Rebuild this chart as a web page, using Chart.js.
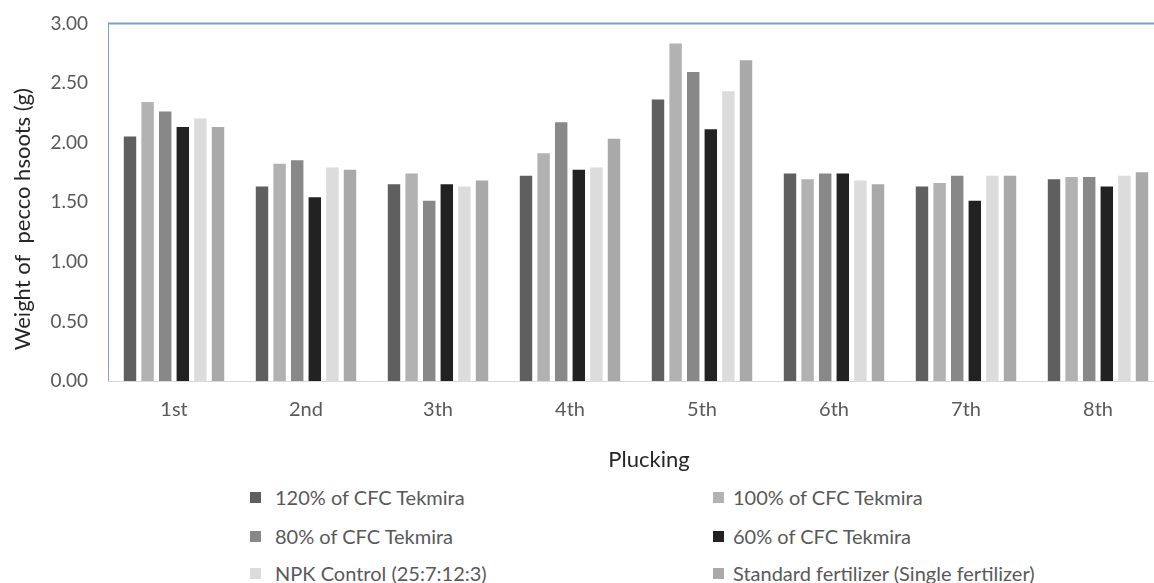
<!DOCTYPE html>
<html>
<head>
<meta charset="utf-8">
<script src="https://cdn.jsdelivr.net/npm/chart.js@4.4.1/dist/chart.umd.min.js"></script>
<style>
  html, body { margin: 0; padding: 0; background: #fff; overflow: hidden; }
  #wrap { position: absolute; left: 0; top: 0; width: 1164px; height: 472px; }
  #legend { position: absolute; left: 0; top: 472px; width: 1154px; height: 111px;
    font-family: Lato, sans-serif; font-size: 20px; color: #595959; }
  .item { position: absolute; white-space: nowrap; line-height: 24px; }
  .box { position: absolute; width: 11px; height: 11px; }
</style>
</head>
<body>
<div id="wrap"><canvas id="chart" width="1164" height="472"></canvas></div>
<div id="legend"></div>
<script>
var pluckings = ['1st', '2nd', '3th', '4th', '5th', '6th', '7th', '8th'];

var seriesNames = [
  '120% of CFC Tekmira',
  '100% of CFC Tekmira',
  '80% of CFC Tekmira',
  '60% of CFC Tekmira',
  'NPK Control (25:7:12:3)',
  'Standard fertilizer (Single fertilizer)'
];
var seriesColors = ['#5f5f5f', '#b2b2b2', '#888888', '#222222', '#dcdcdc', '#a9a9a9'];

var cfc120 = [2.06, 1.64, 1.66, 1.73, 2.37, 1.75, 1.64, 1.70];
var cfc100 = [2.35, 1.83, 1.75, 1.92, 2.84, 1.70, 1.67, 1.72];
var cfc80  = [2.27, 1.86, 1.52, 2.18, 2.60, 1.75, 1.73, 1.72];
var cfc60  = [2.14, 1.55, 1.66, 1.78, 2.12, 1.75, 1.52, 1.64];
var npk    = [2.21, 1.80, 1.64, 1.80, 2.44, 1.69, 1.73, 1.73];
var standard = [2.14, 1.78, 1.69, 2.04, 2.70, 1.66, 1.73, 1.76];

var yTicks = [0, 0.5, 1, 1.5, 2, 2.5, 3];
var yTitle = 'Weight of  pecco hsoots (g)';
var xTitle = 'Plucking';

var seriesData = [cfc120, cfc100, cfc80, cfc60, npk, standard];

// blue frame on top and left of the plot area, plus both axis titles
var framePlugin = {
  id: 'frame',
  afterDraw: function (chart) {
    var a = chart.chartArea, ctx = chart.ctx;
    ctx.save();
    ctx.strokeStyle = '#7f9fd3';
    ctx.lineWidth = 2;
    ctx.beginPath();
    ctx.moveTo(a.left, a.top);
    ctx.lineTo(a.right, a.top);
    ctx.stroke();
    ctx.lineWidth = 1;
    ctx.beginPath();
    ctx.moveTo(a.left + 0.5, a.top);
    ctx.lineTo(a.left + 0.5, a.bottom);
    ctx.stroke();

    ctx.fillStyle = '#262626';
    ctx.textAlign = 'center';
    ctx.textBaseline = 'middle';
    ctx.font = '22px Lato';
    ctx.fillText(xTitle, (a.left + a.right) / 2 + 13, a.bottom + 79);

    ctx.translate(23, (a.top + a.bottom) / 2 + 17);
    ctx.rotate(-Math.PI / 2);
    ctx.fillText(yTitle, 0, 0);
    ctx.restore();
  }
};

var ctx = document.getElementById('chart').getContext('2d');
var chart = new Chart(ctx, {
  type: 'bar',
  data: {
    labels: pluckings,
    datasets: seriesNames.map(function (name, i) {
      return {
        label: name,
        data: seriesData[i],
        backgroundColor: seriesColors[i],
        borderColor: 'rgba(255,255,255,0.5)',
        borderWidth: 1,
        barPercentage: 0.82,
        categoryPercentage: 0.8
      };
    })
  },
  options: {
    responsive: false,
    animation: false,
    layout: { padding: { top: 21, right: 0, left: 0, bottom: 0 } },
    plugins: {
      legend: { display: false },
      tooltip: { enabled: false }
    },
    scales: {
      x: {
        grid: { display: false },
        border: { color: '#d9d9d9', width: 1 },
        ticks: { color: '#595959', padding: 9, font: { family: 'Lato', size: 20 } },
        afterFit: function (s) { s.height = 91; }
      },
      y: {
        min: 0,
        max: 3,
        afterBuildTicks: function (s) { s.ticks = yTicks.map(function (v) { return { value: v }; }); },
        grid: { display: false },
        border: { display: false },
        ticks: {
          color: '#595959', padding: 12,
          font: { family: 'Lato', size: 19 },
          callback: function (v) { return v.toFixed(2); }
        },
        afterFit: function (s) { s.width = 108; }
      }
    }
  },
  plugins: [framePlugin]
});

// legend in two columns, built from the datasets
var legend = document.getElementById('legend');
var boxX = [250, 713];
var textX = [275, 733];
var rowY = [13, 52, 89];
chart.data.datasets.forEach(function (ds, i) {
  var col = i % 2, row = Math.floor(i / 2);
  var box = document.createElement('span');
  box.className = 'box';
  box.style.left = boxX[col] + 'px';
  box.style.top = (rowY[row] + 7) + 'px';
  box.style.background = ds.backgroundColor;
  legend.appendChild(box);
  var el = document.createElement('div');
  el.className = 'item';
  el.style.left = textX[col] + 'px';
  el.style.top = rowY[row] + 'px';
  el.textContent = ds.label;
  legend.appendChild(el);
});
</script>
</body>
</html>
